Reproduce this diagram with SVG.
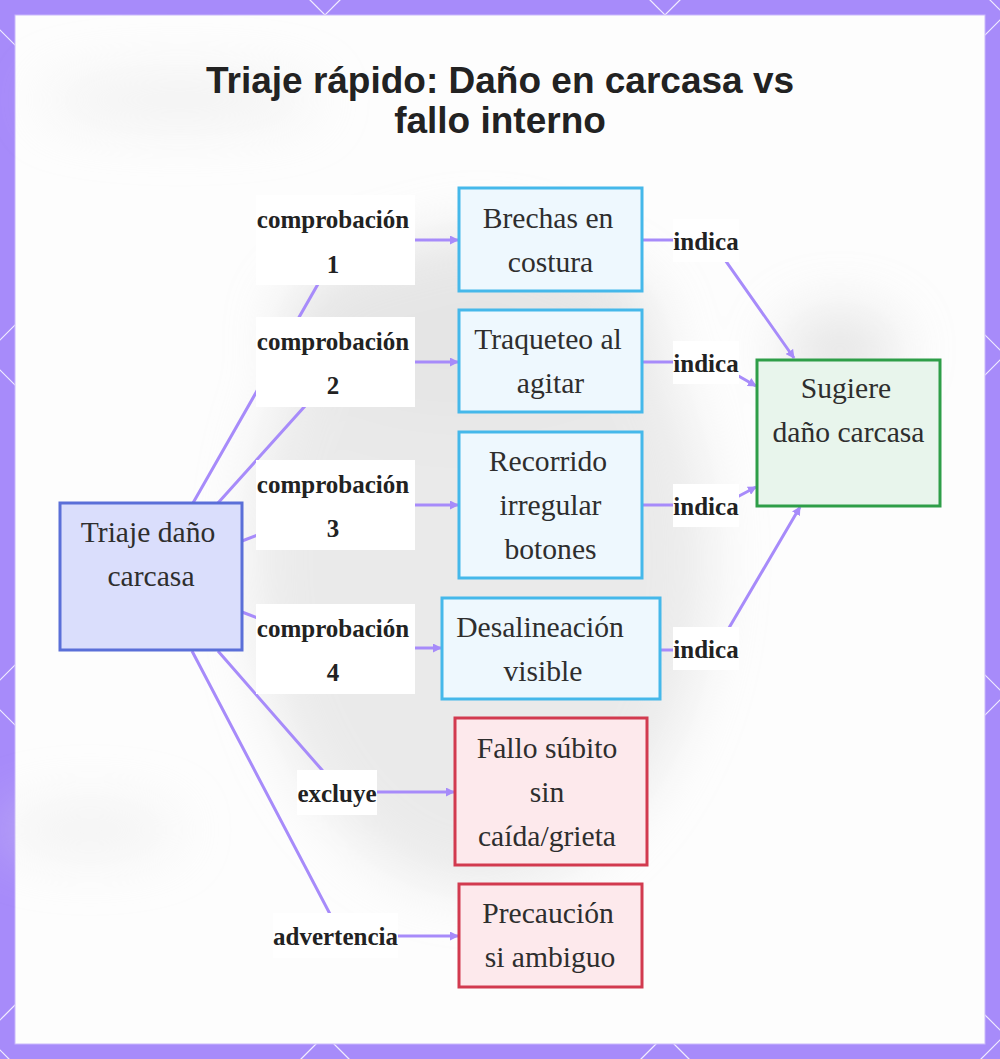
<svg xmlns="http://www.w3.org/2000/svg" width="1000" height="1059" viewBox="0 0 1000 1059">
<style>
.node rect{stroke-width:3}
.blue rect{fill:#eef8fe;stroke:#45b8ea}
.root rect{fill:#dadefc;stroke:#5a6fd8}
.green rect{fill:#e8f5ec;stroke:#2e9e48}
.red rect{fill:#fde9ec;stroke:#d23a4f}
.nt{font-family:"Liberation Serif","Times New Roman",serif;font-size:29.6px;fill:#2e2e2e;text-anchor:middle}
.lbl rect{fill:#ffffff}
.lt{font-family:"Liberation Serif","Times New Roman",serif;font-size:25px;font-weight:bold;fill:#222;text-anchor:middle}
.edge{fill:none;stroke:#a78bfa;stroke-width:3;marker-end:url(#arr)}
.lat{stroke:#ffffff;stroke-width:1.2;opacity:0.85}
.title{font-family:"Liberation Sans",Arial,sans-serif;font-size:37px;font-weight:bold;fill:#222;text-anchor:middle}
</style>
<defs>
<marker id="arr" markerUnits="userSpaceOnUse" markerWidth="9" markerHeight="9" refX="8" refY="4.5" orient="auto">
<path d="M0,0 L9,4.5 L0,9 z" fill="#a78bfa"/>
</marker>
<filter id="blur" x="-50%" y="-50%" width="200%" height="200%"><feGaussianBlur stdDeviation="28"/></filter>
</defs>
<rect x="0" y="0" width="1000" height="1059" fill="#a78bfa"/>
<g id="lattice">
<line class="lat" x1="440" y1="-100" x2="-100" y2="440"/>
<line class="lat" x1="780" y1="-100" x2="-100" y2="780"/>
<line class="lat" x1="1120" y1="-100" x2="-100" y2="1120"/>
<line class="lat" x1="1200" y1="160" x2="-100" y2="1460"/>
<line class="lat" x1="1200" y1="500" x2="-100" y2="1800"/>
<line class="lat" x1="1200" y1="840" x2="-100" y2="2140"/>
<line class="lat" x1="-100" y1="-70" x2="1200" y2="1230"/>
<line class="lat" x1="-100" y1="270" x2="1200" y2="1570"/>
<line class="lat" x1="-100" y1="610" x2="1200" y2="1910"/>
<line class="lat" x1="-100" y1="950" x2="1200" y2="2250"/>
<line class="lat" x1="210" y1="-100" x2="1510" y2="1200"/>
<line class="lat" x1="550" y1="-100" x2="1850" y2="1200"/>
<line class="lat" x1="890" y1="-100" x2="2190" y2="1200"/>
</g>
<rect x="15" y="15" width="970" height="1029" fill="#fdfdfd" stroke="#c9b8fb" stroke-width="1"/>
<g id="backdrop" filter="url(#blur)" opacity="0.5">
<ellipse cx="480" cy="560" rx="230" ry="330" fill="#d8d8d8"/>
<ellipse cx="470" cy="330" rx="190" ry="90" fill="#cfcfcf"/>
<ellipse cx="840" cy="350" rx="60" ry="40" fill="#cfcfcf"/>
<ellipse cx="180" cy="100" rx="140" ry="25" fill="#e4e4e4"/>
<ellipse cx="90" cy="830" rx="90" ry="25" fill="#e6e6e6"/>
</g>
<text class="title" x="500" y="93">Triaje rápido: Daño en carcasa vs</text>
<text class="title" x="500" y="133">fallo interno</text>
<g id="connectors">
<path class="edge" d="M193,503 L318,284 L336,240 L458,240"/>
<path class="edge" d="M218,503 L305,406 L336,362 L458,362"/>
<path class="edge" d="M242,541 L336,505 L458,505"/>
<path class="edge" d="M242,612 L336,648 L441,648"/>
<path class="edge" d="M218,651 L322,770 L337,792 L454,792"/>
<path class="edge" d="M192,651 L330,914 L335,936 L458,936"/>
<path class="edge" d="M643,240 L711,240 L794,358"/>
<path class="edge" d="M643,362 L714,362 L756,386"/>
<path class="edge" d="M643,505 L722,505 L756,487"/>
<path class="edge" d="M661,650 L716,650 L800,507"/>
</g>
<g id="label-c1" class="lbl"><rect x="256" y="195" width="159" height="90"/><text class="lt" x="333" y="228">comprobación</text><text class="lt" x="333" y="273">1</text></g>
<g id="label-c2" class="lbl"><rect x="256" y="317" width="159" height="90"/><text class="lt" x="333" y="350">comprobación</text><text class="lt" x="333" y="394">2</text></g>
<g id="label-c3" class="lbl"><rect x="256" y="460" width="159" height="90"/><text class="lt" x="333" y="493">comprobación</text><text class="lt" x="333" y="537">3</text></g>
<g id="label-c4" class="lbl"><rect x="256" y="604" width="159" height="90"/><text class="lt" x="333" y="637">comprobación</text><text class="lt" x="333" y="681">4</text></g>
<g id="label-excluye" class="lbl"><rect x="297" y="770" width="80" height="45"/><text class="lt" x="337" y="802">excluye</text></g>
<g id="label-advertencia" class="lbl"><rect x="273" y="913" width="125" height="45"/><text class="lt" x="335.5" y="945">advertencia</text></g>
<g id="label-i1" class="lbl"><rect x="673" y="219" width="66" height="43"/><text class="lt" x="706" y="250">indica</text></g>
<g id="label-i2" class="lbl"><rect x="673" y="341" width="66" height="43"/><text class="lt" x="706" y="372">indica</text></g>
<g id="label-i3" class="lbl"><rect x="673" y="484" width="66" height="43"/><text class="lt" x="706" y="515">indica</text></g>
<g id="label-i4" class="lbl"><rect x="673" y="627" width="66" height="43"/><text class="lt" x="706" y="658">indica</text></g>
<g id="node-root" class="node root"><rect x="60" y="503" width="182" height="147"/><text class="nt" x="148" y="542">Triaje daño</text><text class="nt" x="151" y="586">carcasa</text></g>
<g id="node-brechas" class="node blue"><rect x="459" y="188" width="183" height="103"/><text class="nt" x="548" y="228">Brechas en</text><text class="nt" x="550.5" y="272">costura</text></g>
<g id="node-traqueteo" class="node blue"><rect x="459" y="310" width="183" height="102"/><text class="nt" x="548" y="349">Traqueteo al</text><text class="nt" x="550.5" y="393">agitar</text></g>
<g id="node-recorrido" class="node blue"><rect x="459" y="432" width="183" height="146"/><text class="nt" x="548" y="471">Recorrido</text><text class="nt" x="550.5" y="515">irregular</text><text class="nt" x="550.5" y="559">botones</text></g>
<g id="node-desalineacion" class="node blue"><rect x="442" y="598" width="218" height="101"/><text class="nt" x="540" y="637">Desalineación</text><text class="nt" x="543" y="681">visible</text></g>
<g id="node-fallo" class="node red"><rect x="455" y="718" width="192" height="147"/><text class="nt" x="547" y="758">Fallo súbito</text><text class="nt" x="547" y="802">sin</text><text class="nt" x="547" y="846">caída/grieta</text></g>
<g id="node-precaucion" class="node red"><rect x="459" y="884" width="183" height="103"/><text class="nt" x="548" y="923">Precaución</text><text class="nt" x="550" y="967">si ambiguo</text></g>
<g id="node-sugiere" class="node green"><rect x="757" y="360" width="183" height="146"/><text class="nt" x="846" y="398">Sugiere</text><text class="nt" x="848.5" y="442">daño carcasa</text></g>
</svg>
